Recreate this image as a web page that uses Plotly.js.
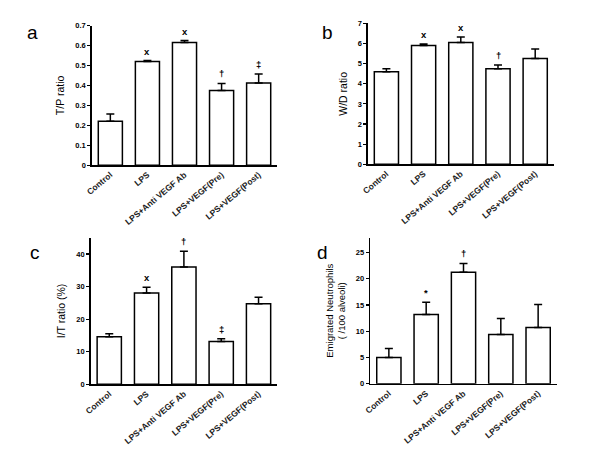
<!DOCTYPE html>
<html>
<head>
<meta charset="utf-8">
<script src="https://cdn.plot.ly/plotly-3.0.1.min.js"></script>
<style>html,body{margin:0;padding:0;background:#fff;}#chart{width:600px;height:450px;}</style>
</head>
<body>
<div id="chart"></div>
<script>
const categories = ["Control", "LPS", "LPS+Anti VEGF Ab", "LPS+VEGF(Pre)", "LPS+VEGF(Post)"];

const tpRatio = [0.22, 0.52, 0.615, 0.375, 0.412];
const tpErr = [0.037, 0.005, 0.01, 0.035, 0.045];
const tpMarks = ["", "x", "x", "†", "‡"];

const wdRatio = [4.6, 5.9, 6.05, 4.75, 5.25];
const wdErr = [0.15, 0.08, 0.28, 0.18, 0.48];
const wdMarks = ["", "x", "x", "†", ""];

const itRatio = [14.6, 28.0, 36.0, 13.1, 24.7];
const itErr = [0.9, 1.8, 4.8, 0.9, 2.0];
const itMarks = ["", "x", "†", "‡", ""];

const neutro = [5.0, 13.2, 21.2, 9.4, 10.7];
const neutroErr = [1.7, 2.3, 1.7, 3.0, 4.4];
const neutroMarks = ["", "*", "†", "", ""];

const FONT = "Liberation Sans, Arial, sans-serif";

function barTrace(vals, errs, xa, ya) {
  return {
    type: "bar", x: categories, y: vals, xaxis: xa, yaxis: ya,
    width: 0.65,
    marker: {color: "#ffffff", line: {color: "#000", width: 1.5}},
    error_y: {type: "data", symmetric: false, array: errs,
      arrayminus: errs.map(() => 0), color: "#000", thickness: 1.5, width: 4},
    showlegend: false, hoverinfo: "skip"
  };
}

const data = [
  barTrace(tpRatio, tpErr, "x", "y"),
  barTrace(wdRatio, wdErr, "x2", "y2"),
  barTrace(itRatio, itErr, "x3", "y3"),
  barTrace(neutro, neutroErr, "x4", "y4")
];

function xax(domain) {
  return {
    domain: domain, range: [-0.5, 4.5], type: "category",
    showline: true, linecolor: "#000", linewidth: 1.5,
    ticks: "", tickangle: -40,
    tickfont: {family: FONT, size: 8.5, color: "#222", weight: "bold"},
    showgrid: false, zeroline: false, fixedrange: true
  };
}
function yax(domain, range, dtick, title, anchor, tsize) {
  return {
    domain: domain, range: range, dtick: dtick, anchor: anchor,
    showline: true, linecolor: "#000", linewidth: 1.5,
    ticks: "outside", ticklen: 3, tickwidth: 1.2, tickcolor: "#000",
    tickfont: {family: FONT, size: 7.5, color: "#000", weight: "bold"},
    showgrid: false, zeroline: false,
    title: {text: title, font: {family: FONT, size: tsize, color: "#000"}, standoff: 8}
  };
}

const annotations = [];
function addMarks(marks, vals, errs, xr, yr) {
  marks.forEach((m, i) => {
    if (!m) return;
    annotations.push({
      xref: xr, yref: yr, x: categories[i], y: vals[i] + errs[i],
      text: m, showarrow: false, yanchor: "bottom", yshift: 2,
      font: {family: FONT, size: 9.5, color: "#000", weight: "bold"}
    });
  });
}
addMarks(tpMarks, tpRatio, tpErr, "x", "y");
addMarks(wdMarks, wdRatio, wdErr, "x2", "y2");
addMarks(itMarks, itRatio, itErr, "x3", "y3");
addMarks(neutroMarks, neutro, neutroErr, "x4", "y4");

[["a", 32, 32], ["b", 327, 32], ["c", 35, 252], ["d", 322, 252]].forEach(([t, px, py]) => {
  annotations.push({
    xref: "paper", yref: "paper", x: px / 600, y: 1 - py / 450,
    text: t, showarrow: false, xanchor: "center", yanchor: "middle",
    font: {family: FONT, size: 19, color: "#000"}
  });
});

const layout = {
  width: 600, height: 450,
  margin: {l: 0, r: 0, t: 0, b: 0},
  paper_bgcolor: "#fff", plot_bgcolor: "#fff",
  xaxis: Object.assign(xax([0.153, 0.462]), {anchor: "y"}),
  yaxis: yax([0.633, 0.943], [0, 0.7], 0.1, "T/P ratio", "x", 10.5),
  xaxis2: Object.assign(xax([0.613, 0.923]), {anchor: "y2"}),
  yaxis2: yax([0.635, 0.948], [0, 7], 1, "W/D ratio", "x2", 10.5),
  xaxis3: Object.assign(xax([0.151, 0.462]), {anchor: "y3"}),
  yaxis3: yax([0.146, 0.472], [0, 45], 10, "I/T ratio (%)", "x3", 10.5),
  xaxis4: Object.assign(xax([0.617, 0.928]), {anchor: "y4"}),
  yaxis4: yax([0.147, 0.472], [0, 27.8], 5, "Emigrated Neutrophils<br>( /100 alveoli)", "x4", 9.5),
  annotations: annotations
};
layout.yaxis.tickmode = "array";
layout.yaxis.tickvals = [0, 0.1, 0.2, 0.3, 0.4, 0.5, 0.6, 0.7];
layout.yaxis.ticktext = ["0", "0.1", "0.2", "0.3", "0.4", "0.5", "0.6", "0.7"];

Plotly.newPlot("chart", data, layout, {staticPlot: true});
</script>
</body>
</html>
